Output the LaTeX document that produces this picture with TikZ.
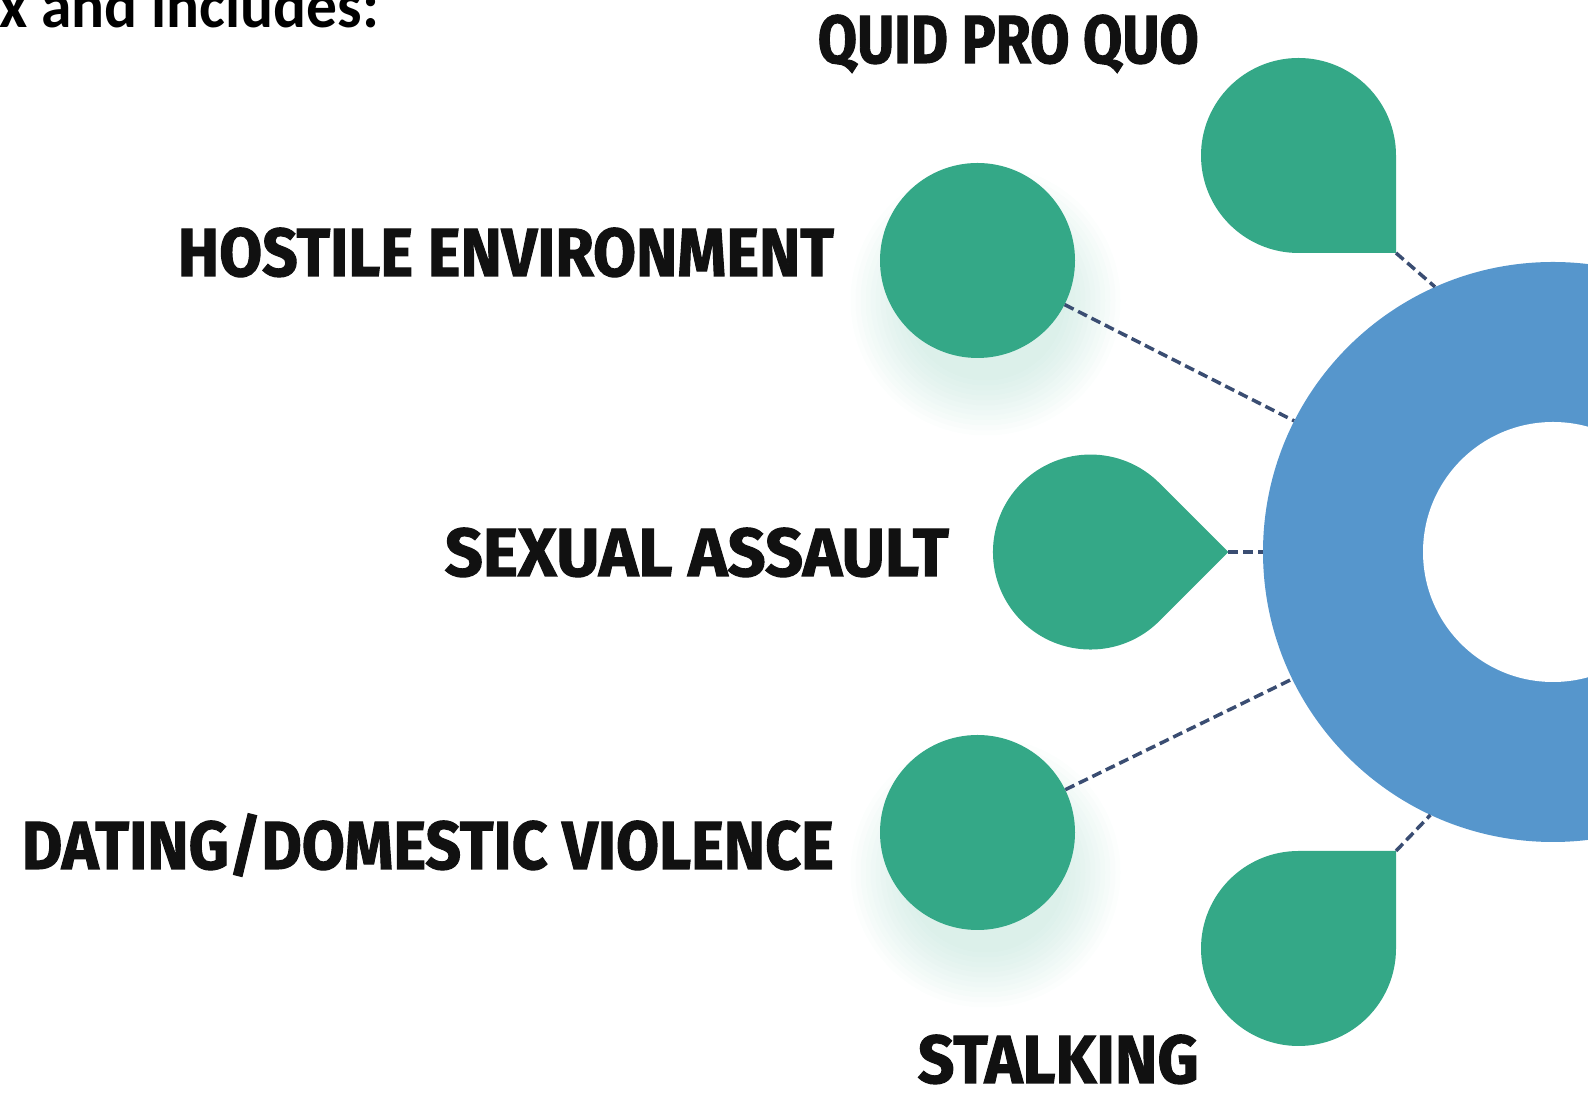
\documentclass[tikz,border=0pt]{standalone}
\usepackage{fontspec}
\usepackage{graphicx}
\setmainfont{Fira Sans}
\newfontfamily\labfont{Fira Sans}[FakeBold=1.6]
\newfontfamily\calfont{Carlito}
\definecolor{teal}{HTML}{34A887}
\definecolor{donutblue}{HTML}{5696CC}
\definecolor{dashcol}{HTML}{3A4D72}
\definecolor{ink}{HTML}{111111}
\tikzset{
  lab/.style={inner sep=0pt, anchor=base east, text=ink, font=\labfont\fontsize{68}{80}\selectfont\bfseries},
  conn/.style={draw=dashcol, line width=3.5pt, dash pattern=on 10pt off 5pt},
  blob/.style={fill=teal, draw=none},
  dot/.style={circle, fill=teal, draw=none, minimum size=195pt, inner sep=0pt},
  glow/.style={fill=teal, opacity=0.014, draw=none}
}
\begin{document}
\begin{tikzpicture}[x=1pt,y=1pt]
\path[use as bounding box, clip] (0,0) rectangle (1588,1110);

% centres
\coordinate (hc) at (977.5,849.5);
\coordinate (dc) at (977.5,277.5);
\coordinate (qpqcorner) at (1396,857);
\coordinate (stalkcorner) at (1396,259);
\coordinate (sapoint) at (1228.4,558);

% soft shadows of the two circles
\foreach \r in {80,85,...,135} {
  \path[glow] (hc) ++(8,-40) circle (\r);
  \path[glow] (dc) ++(8,-40) circle (\r);
}

% central donut
\node[circle, fill=donutblue, draw=none, minimum size=580pt, inner sep=0pt] (donut) at (1553,558) {};
\node[circle, fill=white, draw=none, minimum size=260pt, inner sep=0pt] (hole) at (donut.center) {};

% teardrop shapes
\path[blob] (qpqcorner) -- (1396,954.5) arc[start angle=0, end angle=270, radius=97.5] -- cycle;
\path[blob] (stalkcorner) -- (1396,161.5) arc[start angle=0, end angle=-270, radius=97.5] -- cycle;
\path[blob] (sapoint) -- (1159.4,626.9) arc[start angle=45, end angle=315, radius=97.5] -- cycle;

% circles
\node[dot] (hostile) at (hc) {};
\node[dot] (dating) at (dc) {};

% connectors
\draw[conn] (hostile) -- (donut);
\draw[conn] (dating) -- (donut);
\draw[conn] (sapoint) -- (donut);
\draw[conn] (qpqcorner) -- (donut.114.74);
\draw[conn] (stalkcorner) -- (donut.245.26);

% labels
\node[lab] (lqpq) at (1199,1047) {\resizebox{381pt}{\height}{QUID PRO QUO}};
\node[lab] (lhostile) at (834,834) {\resizebox{656pt}{\height}{HOSTILE ENVIRONMENT}};
\node[lab] (lsa) at (949,534) {\resizebox{504pt}{\height}{SEXUAL ASSAULT}};
\node[lab] (ldating) at (834,241) {\resizebox{812pt}{\height}{DATING/DOMESTIC VIOLENCE}};
\node[lab] (lstalk) at (1199,27) {\resizebox{281pt}{\height}{STALKING}};

% cut-off heading
\node[anchor=base west, inner sep=0pt, text=black, font=\calfont\bfseries\fontsize{64}{74}\selectfont] (intro) at (-1,1082) {\resizebox{380pt}{\height}{x and includes:}};
\end{tikzpicture}
\end{document}
